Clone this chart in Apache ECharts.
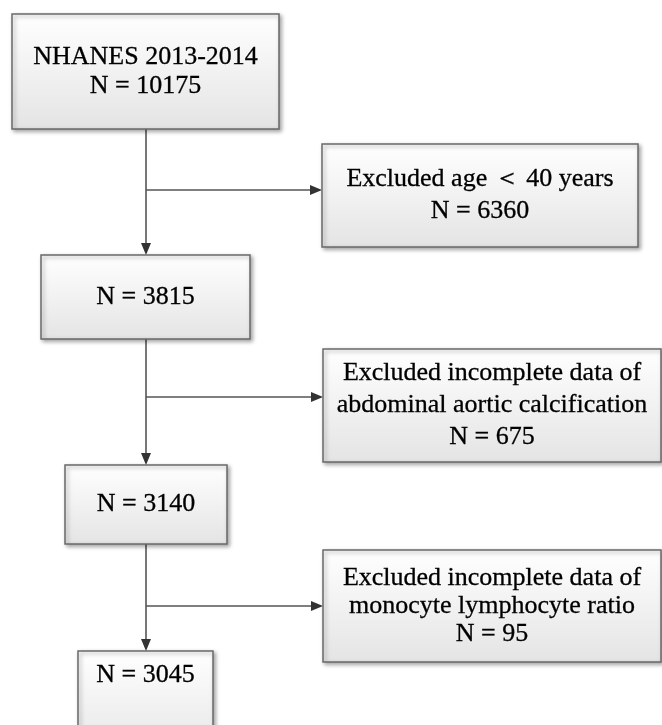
<!DOCTYPE html>
<html>
<head>
<meta charset="utf-8">
<script src="https://cdn.jsdelivr.net/npm/echarts@6/dist/echarts.min.js"></script>
<style>
  html, body { margin: 0; padding: 0; background: #fff; }
  #chart { width: 662px; height: 725px; }
</style>
</head>
<body>
<div id="chart"></div>
<script>
// flow data
const mainTitles = ["NHANES 2013-2014", "", "", ""];
const mainCounts = [10175, 3815, 3140, 3045];
const excludedReasons = [
  "Excluded age \uFF1C 40 years",
  "Excluded incomplete data of\nabdominal aortic calcification",
  "Excluded incomplete data of\nmonocyte lymphocyte ratio"
];
const excludedCounts = [6360, 675, 95];

// layout (page pixels): [x1, y1, x2, y2]
const mainBoxes = [[12, 14, 279, 129], [41, 255, 250, 339], [65, 465, 227, 544], [78, 651, 213, 760]];
const sideBoxes = [[322, 144, 638, 247], [323, 349, 661, 462], [323, 550, 661, 662]];
const mainLineHeight = [29, 30, 30, 30];
const sideLineHeight = [32, 32, 28];
const spineX = 146;
const branchY = [190, 397, 606];

const chart = echarts.init(document.getElementById("chart"));

const boxes = [];
mainBoxes.forEach((b, i) => {
  const txt = (mainTitles[i] ? mainTitles[i] + "\n" : "") + "N = " + mainCounts[i];
  boxes.push({ value: b, text: txt, lh: mainLineHeight[i], top: i === 3 ? 24 : null });
});
sideBoxes.forEach((b, i) => {
  boxes.push({ value: b, text: excludedReasons[i] + "\nN = " + excludedCounts[i], lh: sideLineHeight[i], top: null });
});

// connectors: [x1, y1, x2, y2]
const links = [];
for (let i = 0; i < mainBoxes.length - 1; i++) {
  links.push([spineX, mainBoxes[i][3], spineX, mainBoxes[i + 1][1]]);
  links.push([spineX, branchY[i], sideBoxes[i][0], branchY[i]]);
}

const lineColor = "#555";

const renderBox = (params, api) => {
  const item = boxes[params.dataIndex];
  const p1 = api.coord([api.value(0), api.value(1)]);
  const p2 = api.coord([api.value(2), api.value(3)]);
  const w = p2[0] - p1[0];
  const h = p2[1] - p1[1];
  const cx = p1[0] + w / 2;
  return {
    type: "group",
    children: [
      {
        type: "rect",
        shape: { x: p1[0], y: p1[1], width: w, height: h },
        style: {
          fill: new echarts.graphic.LinearGradient(0, 0, 0, 1, [
            { offset: 0, color: "#ffffff" },
            { offset: 1, color: "#e4e4e4" }
          ]),
          stroke: "#6a6a6a",
          lineWidth: 1.5,
          shadowBlur: 4,
          shadowOffsetX: 2,
          shadowOffsetY: 2,
          shadowColor: "rgba(0,0,0,0.35)"
        }
      },
      {
        type: "text",
        style: {
          text: item.text,
          x: cx,
          y: item.top !== null ? p1[1] + item.top : p1[1] + h / 2,
          align: "center",
          verticalAlign: "middle",
          fontFamily: "Liberation Serif",
          fontSize: 26,
          lineHeight: item.lh,
          fill: "#000",
          stroke: "#000",
          lineWidth: 0.3
        }
      }
    ]
  };
};

const renderLink = (params, api) => {
  const a = api.coord([api.value(0), api.value(1)]);
  const b = api.coord([api.value(2), api.value(3)]);
  const horiz = Math.abs(a[1] - b[1]) < 1;
  const len = 12, half = 5;
  let head;
  if (horiz) {
    head = [[b[0], b[1]], [b[0] - len, b[1] - half], [b[0] - len, b[1] + half]];
  } else {
    head = [[b[0], b[1]], [b[0] - half, b[1] - len], [b[0] + half, b[1] - len]];
  }
  return {
    type: "group",
    children: [
      {
        type: "line",
        shape: { x1: a[0], y1: a[1], x2: horiz ? b[0] - len + 1 : b[0], y2: horiz ? b[1] : b[1] - len + 1 },
        style: { stroke: lineColor, lineWidth: 1.6 }
      },
      {
        type: "polygon",
        shape: { points: head },
        style: { fill: "#333" }
      }
    ]
  };
};

const option = {
  animation: false,
  grid: { left: 0, right: 0, top: 0, bottom: 0 },
  xAxis: { type: "value", min: 0, max: 662, show: false },
  yAxis: { type: "value", min: 0, max: 725, inverse: true, show: false },
  series: [
    {
      type: "custom",
      coordinateSystem: "cartesian2d",
      renderItem: renderLink,
      data: links,
      silent: true
    },
    {
      type: "custom",
      coordinateSystem: "cartesian2d",
      renderItem: renderBox,
      data: boxes,
      clip: true,
      silent: true
    }
  ]
};

chart.setOption(option);
</script>
</body>
</html>
